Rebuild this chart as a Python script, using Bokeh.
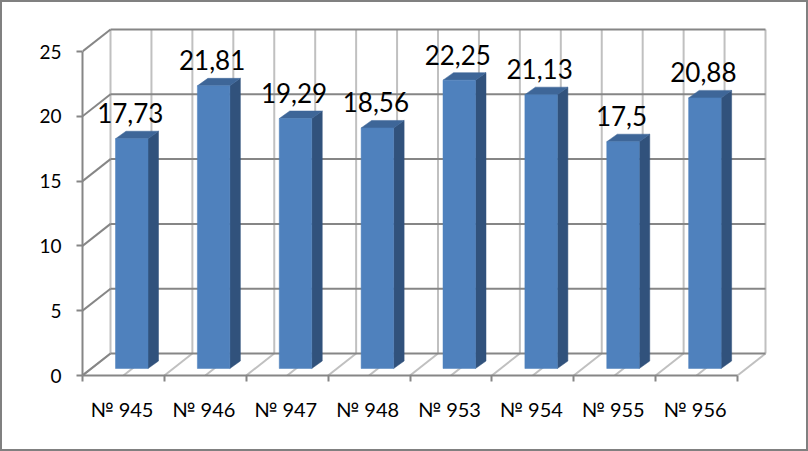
from bokeh.plotting import figure
from bokeh.models import ColumnDataSource, FixedTicker, Range1d
from bokeh.core.properties import value
from bokeh.embed import file_html
from bokeh.resources import INLINE

categories = ["№ 945", "№ 946", "№ 947", "№ 948", "№ 953", "№ 954", "№ 955", "№ 956"]
values = [17.73, 21.81, 19.29, 18.56, 22.25, 21.13, 17.5, 20.88]
labels = ["17,73", "21,81", "19,29", "18,56", "22,25", "21,13", "17,5", "20,88"]
y_ticks = [0, 5, 10, 15, 20, 25]

FONT = "Lato"
AXIS = "#868686"
GRID = "#c0c0c0"
FRONT, SIDE, TOP = "#4f81bd", "#31527c", "#3e6698"

W, H = 804, 447
left, bottom = 80, 74
unit_x = 81.875           # px per category
unit_y = 12.96            # px per value unit
n = len(categories)
ymax = y_ticks[-1]

# Oblique depth of the 3-D box and of the bars, in data units
dx, dy = 28 / unit_x, 22 / unit_y
bar_l, bar_w = 33 / unit_x, 32.5 / unit_x
bar_b = 7 / unit_y
sx, sy = 10.5 / unit_x, 7.5 / unit_y
label_shift = 1.5 / unit_x

p = figure(width=W, height=H, output_backend="svg", toolbar_location=None,
           min_border_left=left, min_border_right=0, min_border_top=0,
           min_border_bottom=bottom,
           x_range=Range1d(0, (W - left) / unit_x),
           y_range=Range1d(0, (H - bottom) / unit_y))
p.styles = {"margin": "2px", "outline": "2px solid #808080"}
p.outline_line_color = None
p.grid.visible = False
p.background_fill_color = "white"
p.border_fill_color = "white"

# Left axis
ya = p.yaxis[0]
ya.ticker = FixedTicker(ticks=y_ticks)
ya.bounds = (0, ymax)
ya.axis_line_color = AXIS
ya.axis_line_width = 2
ya.major_tick_line_color = AXIS
ya.major_tick_line_width = 2
ya.major_tick_out = 6
ya.major_tick_in = 0
ya.minor_tick_line_color = None
ya.major_label_standoff = 15
ya.major_label_text_font = FONT
ya.major_label_text_font_size = "19px"
ya.major_label_text_color = "black"

# Bottom axis: labels in the middle of a category, tick marks at its edges
xa = p.xaxis[0]
centers = [i + 0.5 - label_shift for i in range(n)]
xa.ticker = FixedTicker(ticks=centers, minor_ticks=list(range(n + 1)))
xa.major_label_overrides = {c: t for c, t in zip(centers, categories)}
xa.bounds = (0, n)
xa.axis_line_color = AXIS
xa.axis_line_width = 2
xa.major_tick_line_color = None
xa.major_tick_out = 0
xa.major_tick_in = 0
xa.minor_tick_line_color = AXIS
xa.minor_tick_line_width = 2
xa.minor_tick_out = 6
xa.minor_tick_in = 0
xa.major_label_standoff = 15
xa.major_label_text_font = FONT
xa.major_label_text_font_size = "20px"
xa.major_label_text_color = "black"

# Light walls and floor lines
half = [k / 2 for k in range(2 * n + 1)]
p.segment(x0=[h + dx for h in half], y0=[dy] * len(half),
          x1=[h + dx for h in half], y1=[ymax + dy] * len(half),
          line_color=GRID, line_width=2)
p.segment(x0=half, y0=[0] * len(half),
          x1=[h + dx for h in half], y1=[dy] * len(half),
          line_color=GRID, line_width=2)

# Darker horizontal grid lines and left wall slants
p.segment(x0=[dx] * len(y_ticks), y0=[v + dy for v in y_ticks],
          x1=[n + dx] * len(y_ticks), y1=[v + dy for v in y_ticks],
          line_color=AXIS, line_width=2)
p.segment(x0=[0] * len(y_ticks), y0=y_ticks,
          x1=[dx] * len(y_ticks), y1=[v + dy for v in y_ticks],
          line_color=AXIS, line_width=2)

# Bars
x0 = [i + bar_l for i in range(n)]
x1 = [x + bar_w for x in x0]
tops = [v + bar_b for v in values]

side_xs = [[r, r + sx, r + sx, r] for r in x1]
side_ys = [[bar_b, bar_b + sy, t + sy, t] for t in tops]
top_xs = [[l, l + sx, r + sx, r] for l, r in zip(x0, x1)]
top_ys = [[t, t + sy, t + sy, t] for t in tops]

p.patches(side_xs, side_ys, fill_color=SIDE, line_color=SIDE, line_width=0.5)
p.patches(top_xs, top_ys, fill_color=TOP, line_color=TOP, line_width=0.5)
p.quad(left=x0, right=x1, bottom=[bar_b] * n, top=tops,
       fill_color=FRONT, line_color=FRONT, line_width=0.5)

# Data labels
src = ColumnDataSource(dict(x=[(l + r) / 2 - label_shift for l, r in zip(x0, x1)],
                            y=[t + sy for t in tops], t=labels))
p.text(x="x", y="y", text="t", source=src, text_align="center",
       text_baseline="alphabetic", y_offset=-18,
       text_font=value(FONT), text_font_size="26px", text_color="black")

open("out.html", "w").write(file_html(p, INLINE))
